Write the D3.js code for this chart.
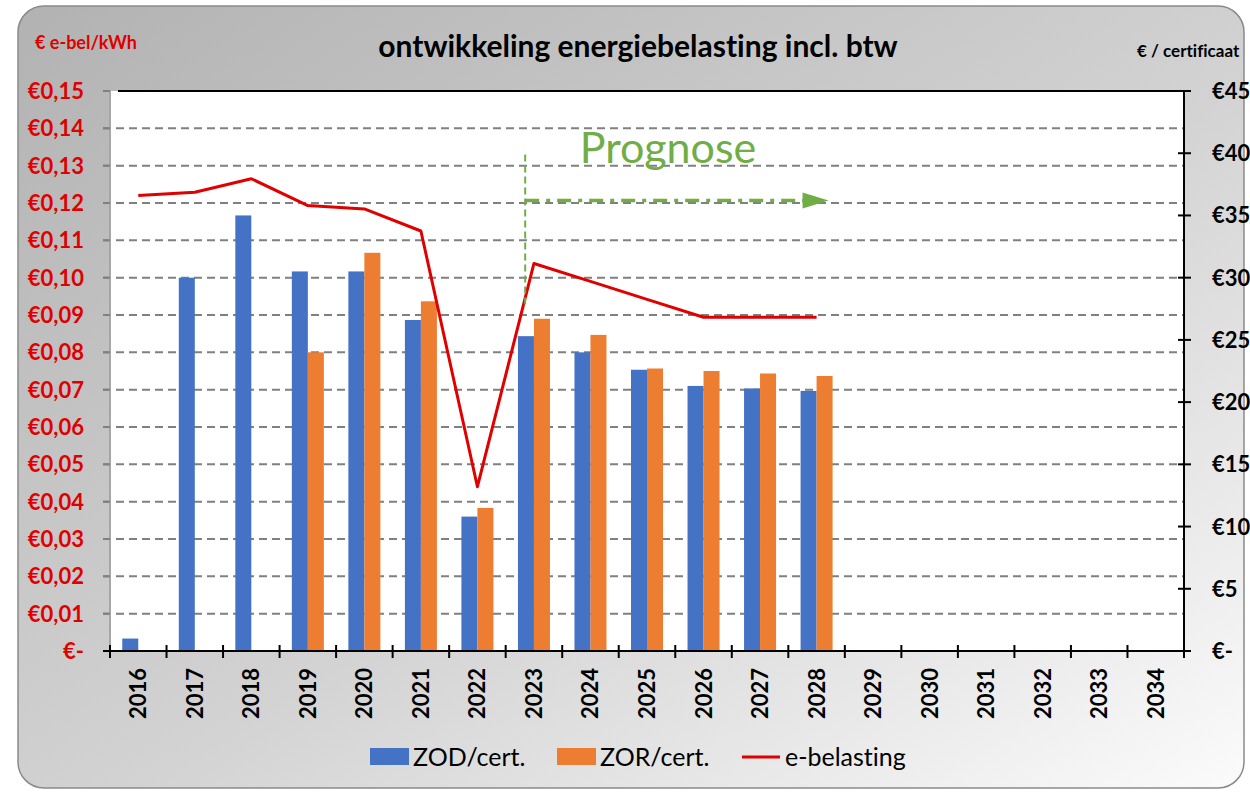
<!DOCTYPE html>
<html>
<head>
<meta charset="utf-8">
<script src="https://cdn.jsdelivr.net/npm/d3@7"></script>
<style>
  body { margin: 0; background: #fff; }
  svg { display: block; font-family: Lato, "Open Sans", sans-serif; font-variant-ligatures: none; }
</style>
</head>
<body>
<div id="chart"></div>
<script>
// data
const years = ["2016","2017","2018","2019","2020","2021","2022","2023","2024","2025",
               "2026","2027","2028","2029","2030","2031","2032","2033","2034"];
const zodCert = [1, 30, 35, 30.5, 30.5, 26.6, 10.8, 25.3, 24, 22.6, 21.3, 21.1, 20.9];
const zorCert = [null, null, null, 24, 32, 28.1, 11.5, 26.7, 25.4, 22.7, 22.5, 22.3, 22.1];
const eBelasting = [0.122, 0.1229, 0.1265, 0.1193, 0.1184, 0.1125, 0.044, 0.1038, 0.099, 0.0942, 0.0894, 0.0894, 0.0894];
const leftTicks = [0, 0.01, 0.02, 0.03, 0.04, 0.05, 0.06, 0.07, 0.08, 0.09, 0.10, 0.11, 0.12, 0.13, 0.14, 0.15];
const rightTicks = [0, 5, 10, 15, 20, 25, 30, 35, 40, 45];
const prognoseYear = "2023";

const width = 1250, height = 793;
const plot = { left: 110, top: 91, right: 1184, bottom: 651 };

const svg = d3.select("#chart").append("svg")
    .attr("width", width)
    .attr("height", height);

// background
const defs = svg.append("defs");
const grad = defs.append("linearGradient")
    .attr("id", "bg")
    .attr("x1", "0%").attr("y1", "0%")
    .attr("x2", "100%").attr("y2", "100%");
grad.append("stop").attr("offset", "0%").attr("stop-color", "#b2b2b2");
grad.append("stop").attr("offset", "55%").attr("stop-color", "#d3d3d3");
grad.append("stop").attr("offset", "100%").attr("stop-color", "#fbfbfb");

svg.append("rect")
    .attr("x", 18).attr("y", 6)
    .attr("width", 1226).attr("height", 782)
    .attr("rx", 26).attr("ry", 26)
    .attr("fill", "url(#bg)")
    .attr("stroke", "#8a8a8a")
    .attr("stroke-width", 1.5);

svg.append("rect")
    .attr("x", plot.left).attr("y", plot.top)
    .attr("width", plot.right - plot.left)
    .attr("height", plot.bottom - plot.top)
    .attr("fill", "#fff");

// scales
const x = d3.scaleBand()
    .domain(years)
    .range([plot.left, plot.right])
    .padding(0);

const xSub = d3.scaleBand()
    .domain(["zod", "zor"])
    .range([x.bandwidth() / 2 - 16, x.bandwidth() / 2 + 16]);

const yLeft = d3.scaleLinear().domain([0, 0.15]).range([plot.bottom, plot.top]);
const yRight = d3.scaleLinear().domain([0, 45]).range([plot.bottom, plot.top]);

// gridlines
svg.append("g")
    .selectAll("line")
    .data(leftTicks.filter(d => d > 0 && d < 0.15))
    .enter()
    .append("line")
    .attr("x1", plot.left - 7)
    .attr("x2", plot.right)
    .attr("y1", d => yLeft(d))
    .attr("y2", d => yLeft(d))
    .attr("stroke", "#808080")
    .attr("stroke-width", 2)
    .attr("stroke-dasharray", "8,5");

// top border
svg.append("line")
    .attr("x1", plot.left + 8).attr("x2", plot.right)
    .attr("y1", plot.top).attr("y2", plot.top)
    .attr("stroke", "#000").attr("stroke-width", 2);

// bars
const barsZod = years.map((y, i) => ({ year: y, v: zodCert[i] })).filter(d => d.v != null);
const barsZor = years.map((y, i) => ({ year: y, v: zorCert[i] })).filter(d => d.v != null);

svg.append("g").selectAll("rect")
    .data(barsZod)
    .enter()
    .append("rect")
    .attr("x", d => x(d.year) + xSub("zod"))
    .attr("y", d => yRight(d.v))
    .attr("width", xSub.bandwidth())
    .attr("height", d => plot.bottom - yRight(d.v))
    .attr("fill", "#4472c4");

svg.append("g").selectAll("rect")
    .data(barsZor)
    .enter()
    .append("rect")
    .attr("x", d => x(d.year) + xSub("zor"))
    .attr("y", d => yRight(d.v))
    .attr("width", xSub.bandwidth())
    .attr("height", d => plot.bottom - yRight(d.v))
    .attr("fill", "#ed7d31");

// e-belasting line
const lineData = years.map((y, i) => ({ year: y, v: eBelasting[i] })).filter(d => d.v != null);
svg.append("path")
    .datum(lineData)
    .attr("fill", "none")
    .attr("stroke", "#e00000")
    .attr("stroke-width", 3)
    .attr("stroke-linejoin", "round")
    .attr("d", d3.line()
        .x(d => x(d.year) + x.bandwidth() / 2)
        .y(d => yLeft(d.v)));

// prognose annotation
const green = "#70ad47";
const px = x(prognoseYear) + 19.5;
const arrowY = yRight(36.2);
const arrowEnd = x("2028") + x.bandwidth() / 2 + 12;

svg.append("line")
    .attr("x1", px).attr("x2", px)
    .attr("y1", yRight(39.9)).attr("y2", yRight(27.8))
    .attr("stroke", green).attr("stroke-width", 2)
    .attr("stroke-dasharray", "7,4");

svg.append("line")
    .attr("x1", px).attr("x2", arrowEnd - 24)
    .attr("y1", arrowY).attr("y2", arrowY)
    .attr("stroke", green).attr("stroke-width", 3.5)
    .attr("stroke-dasharray", "14,7,4,7");

svg.append("path")
    .attr("d", `M${arrowEnd - 26},${arrowY - 8} L${arrowEnd},${arrowY} L${arrowEnd - 26},${arrowY + 8} Z`)
    .attr("fill", green);

svg.append("text")
    .attr("x", 668)
    .attr("y", 163)
    .attr("text-anchor", "middle")
    .attr("fill", green)
    .attr("font-size", 43)
    .text("Prognose");

// left axis
svg.append("line")
    .attr("x1", plot.left).attr("x2", plot.left)
    .attr("y1", plot.top).attr("y2", plot.bottom)
    .attr("stroke", "#a6a6a6").attr("stroke-width", 2);

const leftAxis = svg.append("g");
leftAxis.selectAll("line")
    .data(leftTicks)
    .enter()
    .append("line")
    .attr("x1", plot.left - 7).attr("x2", plot.left)
    .attr("y1", d => yLeft(d)).attr("y2", d => yLeft(d))
    .attr("stroke", "#808080").attr("stroke-width", 2);
leftAxis.selectAll("text")
    .data(leftTicks)
    .enter()
    .append("text")
    .attr("x", 84)
    .attr("y", d => yLeft(d) + 8)
    .attr("text-anchor", "end")
    .attr("fill", "#e00000")
    .attr("font-weight", "bold")
    .attr("font-size", 22)
    .text(d => d === 0 ? "€-" : "€" + d.toFixed(2).replace(".", ","));

// right axis
svg.append("line")
    .attr("x1", plot.right).attr("x2", plot.right)
    .attr("y1", plot.top).attr("y2", plot.bottom + 7)
    .attr("stroke", "#000").attr("stroke-width", 2);

const rightAxis = svg.append("g");
rightAxis.selectAll("line")
    .data(rightTicks)
    .enter()
    .append("line")
    .attr("x1", plot.right - 6).attr("x2", plot.right + 7)
    .attr("y1", d => yRight(d)).attr("y2", d => yRight(d))
    .attr("stroke", "#000").attr("stroke-width", 2);
rightAxis.selectAll("text")
    .data(rightTicks)
    .enter()
    .append("text")
    .attr("x", 1212)
    .attr("y", d => yRight(d) + 8)
    .attr("fill", "#000")
    .attr("font-weight", "bold")
    .attr("font-size", 22)
    .text(d => d === 0 ? "€-" : "€" + d);

// bottom axis
svg.append("line")
    .attr("x1", plot.left - 7).attr("x2", plot.right)
    .attr("y1", plot.bottom).attr("y2", plot.bottom)
    .attr("stroke", "#000").attr("stroke-width", 2);

const bottomAxis = svg.append("g");
bottomAxis.selectAll("line")
    .data(years.concat(["end"]))
    .enter()
    .append("line")
    .attr("x1", (d, i) => plot.left + i * x.bandwidth())
    .attr("x2", (d, i) => plot.left + i * x.bandwidth())
    .attr("y1", plot.bottom - 6).attr("y2", plot.bottom + 7)
    .attr("stroke", "#000").attr("stroke-width", 2);
bottomAxis.selectAll("text")
    .data(years)
    .enter()
    .append("text")
    .attr("transform", d => `translate(${x(d) + x.bandwidth() / 2 + 8},668) rotate(-90)`)
    .attr("text-anchor", "end")
    .attr("fill", "#000")
    .attr("font-weight", "bold")
    .attr("font-size", 22)
    .text(d => d);

// titles
svg.append("text")
    .attr("x", 638).attr("y", 57)
    .attr("text-anchor", "middle")
    .attr("font-weight", "bold")
    .attr("font-size", 30)
    .attr("fill", "#000")
    .text("ontwikkeling energiebelasting incl. btw");

svg.append("text")
    .attr("x", 35).attr("y", 49)
    .attr("font-weight", "bold")
    .attr("font-size", 18)
    .attr("fill", "#e00000")
    .text("€ e-bel/kWh");

svg.append("text")
    .attr("x", 1137).attr("y", 57)
    .attr("font-weight", "bold")
    .attr("font-size", 17)
    .attr("fill", "#000")
    .text("€ / certificaat");

// legend
const legend = svg.append("g");
const legendItems = [
    { label: "ZOD/cert.", type: "rect", color: "#4472c4", x: 370 },
    { label: "ZOR/cert.", type: "rect", color: "#ed7d31", x: 557 },
    { label: "e-belasting", type: "line", color: "#e00000", x: 742 }
];
legendItems.forEach(d => {
    if (d.type === "rect") {
        legend.append("rect")
            .attr("x", d.x).attr("y", 748)
            .attr("width", 39).attr("height", 17)
            .attr("fill", d.color);
    } else {
        legend.append("line")
            .attr("x1", d.x).attr("x2", d.x + 38)
            .attr("y1", 757).attr("y2", 757)
            .attr("stroke", d.color).attr("stroke-width", 3);
    }
    legend.append("text")
        .attr("x", d.x + 43).attr("y", 766)
        .attr("font-size", 25)
        .attr("fill", "#000")
        .text(d.label);
});
</script>
</body>
</html>
